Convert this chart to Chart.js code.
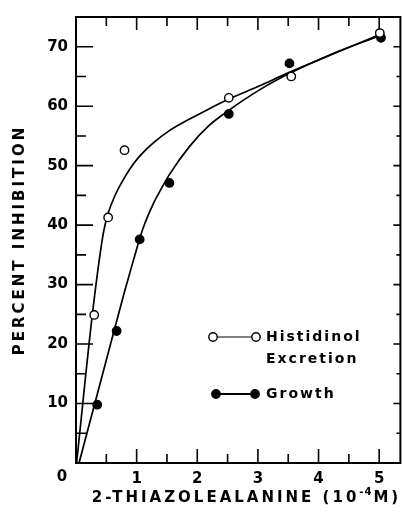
<!DOCTYPE html>
<html>
<head>
<meta charset="utf-8">
<script src="https://cdn.jsdelivr.net/npm/chart.js@4/dist/chart.umd.min.js"></script>
<style>
  html, body { margin: 0; padding: 0; background: #fff; }
  #wrap { width: 406px; height: 515px; position: relative; }
</style>
</head>
<body>
<div id="wrap"><canvas id="c"></canvas></div>
<script>
/* 2-thiazolealanine inhibition: open = histidinol excretion, filled = growth */

const HIST_X = [0.30, 0.53, 0.80, 2.52, 3.55, 5.01];
const HIST_Y = [24.9, 41.3, 52.6, 61.4, 65.0, 72.3];
const GROW_X = [0.35, 0.67, 1.05, 1.54, 2.52, 3.52, 5.03];
const GROW_Y = [9.8, 22.2, 37.6, 47.1, 58.7, 67.2, 71.5];

// hand-drawn fitted curves
const HIST_CURVE_X = [0.01, 0.27, 0.45, 0.53, 0.64, 0.75, 0.885, 1.05, 1.27, 1.54, 1.81, 2.09, 2.52, 3.02, 3.50, 4.20, 5.00];
const HIST_CURVE_Y = [0, 25, 38.6, 42.0, 44.9, 47.1, 49.4, 51.6, 53.8, 55.9, 57.5, 59.0, 61.2, 63.4, 65.6, 68.6, 72.0];
const GROW_CURVE_X = [0.05, 0.31, 0.57, 0.80, 0.95, 1.10, 1.27, 1.40, 1.54, 1.87, 2.20, 2.52, 3.02, 3.50, 4.20, 5.00];
const GROW_CURVE_Y = [0, 10, 20, 28.8, 34.2, 39.3, 43.5, 46.0, 48.5, 53.2, 56.8, 59.3, 62.7, 65.4, 68.7, 71.8];

const X_TICKS = [1, 2, 3, 4, 5];
const Y_TICKS = [10, 20, 30, 40, 50, 60, 70];

const FONT = '"DejaVu Sans", "Liberation Sans", sans-serif';
const pts = (xs, ys) => xs.map((x, i) => ({ x, y: ys[i] }));

const frame = {
  id: 'frame',
  afterDraw(chart) {
    const { ctx, chartArea: a, scales: { x, y } } = chart;
    ctx.save();
    ctx.strokeStyle = '#000';
    ctx.lineWidth = 2;
    ctx.strokeRect(a.left, a.top, a.right - a.left, a.bottom - a.top);
    ctx.lineWidth = 1.6;
    ctx.beginPath();
    for (let v = 0.5; v <= 5; v += 0.5) {
      const px = x.getPixelForValue(v), major = v % 1 === 0;
      ctx.moveTo(px, a.bottom); ctx.lineTo(px, a.bottom - (major ? 14 : 9));
      ctx.moveTo(px, a.top); ctx.lineTo(px, a.top + (major ? 13 : 9));
    }
    for (let v = 5; v <= 70; v += 5) {
      const py = y.getPixelForValue(v), major = v % 10 === 0;
      ctx.moveTo(a.left, py); ctx.lineTo(a.left + (major ? 17 : 10), py);
      ctx.moveTo(a.right, py); ctx.lineTo(a.right - (major ? 7 : 4), py);
    }
    ctx.stroke();

    ctx.fillStyle = '#000';
    ctx.font = 'bold 15px ' + FONT;
    ctx.textAlign = 'center';
    ctx.textBaseline = 'middle';
    ctx.fillText('0', a.left - 14, a.bottom + 14);

    // axis titles
    ctx.font = 'bold 15px ' + FONT;
    ctx.letterSpacing = '3px';
    ctx.save();
    ctx.translate(20, 240);
    ctx.rotate(-Math.PI / 2);
    ctx.fillText('PERCENT INHIBITION', 0, 0);
    ctx.restore();

    const t1 = '2-THIAZOLEALANINE (10', t2 = '-4', t3 = 'M)';
    ctx.font = 'bold 15px ' + FONT;
    const w1 = ctx.measureText(t1).width, w3 = ctx.measureText(t3).width;
    ctx.font = 'bold 10px ' + FONT;
    ctx.letterSpacing = '1px';
    const w2 = ctx.measureText(t2).width;
    let sx = 246 - (w1 + w2 + w3) / 2, ty = 498;
    ctx.textAlign = 'left';
    ctx.font = 'bold 15px ' + FONT; ctx.letterSpacing = '3px';
    ctx.fillText(t1, sx, ty);
    ctx.font = 'bold 10px ' + FONT; ctx.letterSpacing = '1px';
    ctx.fillText(t2, sx + w1, ty - 6);
    ctx.font = 'bold 15px ' + FONT; ctx.letterSpacing = '3px';
    ctx.fillText(t3, sx + w1 + w2 + 1, ty);

    // legend
    const dot = (cx, cy, filled) => {
      ctx.beginPath(); ctx.arc(cx, cy, 4.2, 0, Math.PI * 2);
      ctx.fillStyle = filled ? '#000' : '#fff'; ctx.fill();
      ctx.lineWidth = 1.4; ctx.strokeStyle = '#000'; ctx.stroke();
    };
    ctx.lineWidth = 1; ctx.beginPath(); ctx.moveTo(217, 337); ctx.lineTo(252, 337); ctx.stroke();
    dot(213, 337, false); dot(256, 337, false);
    ctx.lineWidth = 1.8; ctx.beginPath(); ctx.moveTo(216, 394); ctx.lineTo(255, 394); ctx.stroke();
    dot(216, 394, true); dot(255, 394, true);
    ctx.fillStyle = '#000';
    ctx.font = 'bold 14px ' + FONT; ctx.letterSpacing = '2px';
    ctx.fillText('Histidinol', 266, 337);
    ctx.fillText('Excretion', 266, 359);
    ctx.fillText('Growth', 266, 394);
    ctx.restore();
  }
};

new Chart(document.getElementById('c'), {
  type: 'scatter',
  data: {
    datasets: [
      { data: pts(HIST_X, HIST_Y), order: 0, pointRadius: 4.2, pointBackgroundColor: '#fff', pointBorderColor: '#000', pointBorderWidth: 1.4 },
      { data: pts(GROW_X, GROW_Y), order: 0, pointRadius: 4.2, pointBackgroundColor: '#000', pointBorderColor: '#000', pointBorderWidth: 1.4 },
      { data: pts(HIST_CURVE_X, HIST_CURVE_Y), order: 1, showLine: true, pointRadius: 0, borderColor: '#000', borderWidth: 1.7, cubicInterpolationMode: 'monotone', clip: false },
      { data: pts(GROW_CURVE_X, GROW_CURVE_Y), order: 1, showLine: true, pointRadius: 0, borderColor: '#000', borderWidth: 1.7, cubicInterpolationMode: 'monotone', clip: false },
    ],
  },
  options: {
    responsive: true, maintainAspectRatio: false, animation: false,
    layout: { padding: { top: 12, right: 4, left: 0, bottom: 0 } },
    plugins: { legend: { display: false }, tooltip: { enabled: false } },
    scales: {
      x: {
        type: 'linear', min: 0, max: 5.35,
        grid: { display: false, drawTicks: false }, border: { display: false },
        afterBuildTicks: (s) => { s.ticks = X_TICKS.map((value) => ({ value })); },
        afterFit: (s) => { s.height = 52; },
        ticks: { color: '#000', padding: 7, font: { family: FONT, size: 15, weight: 'bold' }, maxRotation: 0 },
      },
      y: {
        type: 'linear', min: 0, max: 75,
        grid: { display: false, drawTicks: false }, border: { display: false },
        afterBuildTicks: (s) => { s.ticks = Y_TICKS.map((value) => ({ value })); },
        afterFit: (s) => { s.width = 76; },
        ticks: { color: '#000', padding: 8, font: { family: FONT, size: 15, weight: 'bold' } },
      },
    },
  },
  plugins: [frame],
});
</script>
</body>
</html>
